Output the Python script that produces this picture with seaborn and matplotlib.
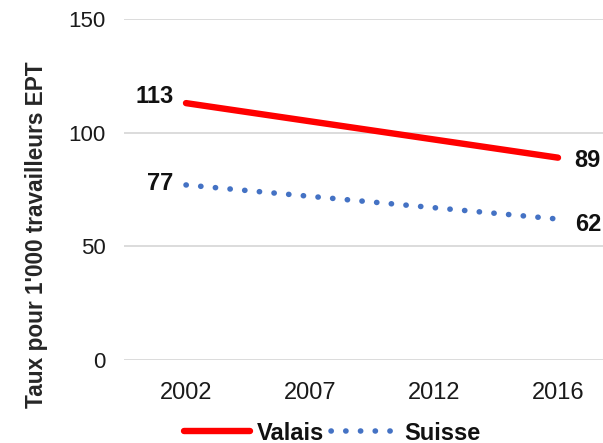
import numpy as np
import pandas as pd
import matplotlib
matplotlib.use("Agg")
import matplotlib.pyplot as plt
import seaborn as sns

categories = ["2002", "2007", "2012", "2016"]
valais = [113, np.nan, np.nan, 89]
suisse = [77, np.nan, np.nan, 62]

sns.set_theme(style="white")
plt.rcParams['font.family'] = ['Liberation Sans', 'DejaVu Sans']

rows = []
for i, c in enumerate(categories):
    rows.append({"pos": i, "serie": "Valais", "val": valais[i]})
    rows.append({"pos": i, "serie": "Suisse", "val": suisse[i]})
df = pd.DataFrame(rows).dropna()

fig = plt.figure(figsize=(6.03, 4.43), dpi=100)
ax = fig.add_axes([124/603, 1-360/443, 496/603, 341/443])

sns.lineplot(data=df[df.serie == "Valais"], x="pos", y="val", ax=ax,
             color="#FF0000", linewidth=4.6, solid_capstyle="round", label="Valais")
sns.lineplot(data=df[df.serie == "Suisse"], x="pos", y="val", ax=ax,
             color="#4472C4", linewidth=4.0, linestyle=(0, (0.05, 2.6)),
             dash_capstyle="round", label="Suisse")

ax.set_xlim(-0.5, 3.5)
ax.set_ylim(0, 150)
ax.set_yticks([0, 50, 100, 150])
ax.set_xticks(range(len(categories)))
ax.set_xticklabels(categories)
ax.tick_params(axis='y', labelsize=16, colors="#1a1a1a", length=0, pad=13)
ax.tick_params(axis='x', labelsize=17, colors="#1a1a1a", length=0, pad=16)
ax.grid(axis='y', color="#D9D9D9", linewidth=1.3)
ax.grid(axis='x', visible=False)
for s in ax.spines.values():
    s.set_visible(False)
ax.set_xlabel("")
ax.set_ylabel("Taux pour 1'000 travailleurs EPT", fontsize=16.3, fontweight="bold")
ax.yaxis.set_label_coords(-(124-48)/496, (360-235)/341)

# data labels
lab = dict(fontsize=17, fontweight="bold", color="#111111")
ax.annotate(f"{valais[0]}", (0, valais[0]), xytext=(-9, 5), textcoords="offset points",
            ha="right", va="center", **lab)
ax.annotate(f"{suisse[0]}", (0, suisse[0]), xytext=(-9, 1), textcoords="offset points",
            ha="right", va="center", **lab)
ax.annotate(f"{valais[3]}", (3, valais[3]), xytext=(12, -2), textcoords="offset points",
            ha="left", va="center", annotation_clip=False, **lab)
ax.annotate(f"{suisse[3]}", (3, suisse[3]), xytext=(12, -4), textcoords="offset points",
            ha="left", va="center", annotation_clip=False, **lab)

leg = ax.legend(loc="center", bbox_to_anchor=(332/603, 1-433/443),
                bbox_transform=fig.transFigure, ncol=2, frameon=False,
                prop={"weight": "bold", "size": 17}, handlelength=2.8,
                handletextpad=0.3, columnspacing=0.3, borderpad=0.1)
for t in leg.get_texts():
    t.set_color("#111111")

fig.savefig("out.png", dpi=100)
